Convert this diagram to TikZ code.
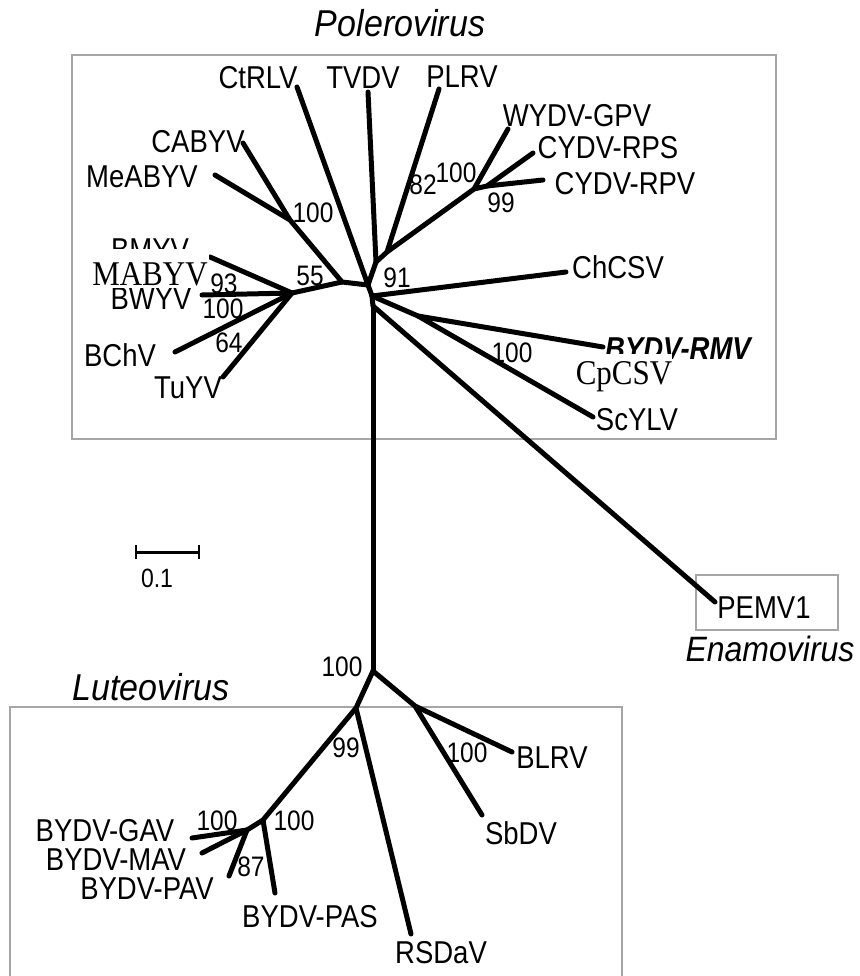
\documentclass[tikz,border=0pt]{standalone}
\usepackage{fontspec}
\setmainfont{Liberation Sans}
\newfontfamily\serifx{Liberation Serif}
\newcommand{\tl}[1]{\scalebox{1}[1.15]{#1}}
\newcommand{\tg}[1]{\scalebox{1}[1.1]{#1}}
\begin{document}
\begin{tikzpicture}[x=1pt,y=-1pt,
  br/.style={line width=5pt, line cap=round, line join=round},
  frame/.style={draw=black!35, line width=2.4pt},
  lab/.style={font=\fontsize{27.5}{30}\selectfont, inner sep=0pt, text height=22.6pt, text depth=0pt},
  bs/.style={font=\fontsize{24.5}{28}\selectfont, inner sep=0pt, text height=20.2pt, text depth=0pt},
  grp/.style={font=\fontsize{34}{38}\selectfont\itshape, inner sep=0pt, text height=26.8pt, text depth=0pt},
  ser/.style={font=\fontsize{31}{34}\selectfont\serifx, inner sep=0pt, text height=23pt, text depth=0pt},
  cover/.style={fill=white, draw=none}]
\useasboundingbox (0,0) rectangle (859,976);
% frames
\draw[frame] (72,55) rectangle (776,439);
\draw[frame] (696,575) rectangle (838,630);
\draw[frame] (10,1000) -- (10,707) -- (622,707) -- (622,1000);
% group labels
\node[grp] (gPol) at (400,23) {\tg{Polerovirus}};
\node[grp] (gLut) at (151,687) {\tg{Luteovirus}};
\node[grp, font=\fontsize{32}{36}\selectfont\itshape] (gEna) at (770,648) {\tg{Enamovirus}};
% internal nodes
\coordinate (N0) at (368,285);
\coordinate (T) at (376,262);
\coordinate (Q) at (387,252);
\coordinate (W) at (474,189);
\coordinate (W2) at (487,186);
\coordinate (F) at (342,282);
\coordinate (CA) at (290,220);
\coordinate (L) at (292,293);
\coordinate (N1) at (372,296);
\coordinate (N2) at (373,306);
\coordinate (RS) at (418,316);
\coordinate (B) at (373,671);
\coordinate (S) at (415,706);
\coordinate (P) at (356,708);
\coordinate (G) at (263,820);
\coordinate (GM) at (247,830);
% tips
\coordinate (tCtRLV) at (297,87);
\coordinate (tTVDV) at (368,92);
\coordinate (tPLRV) at (439,89);
\coordinate (tWYDV) at (508,129);
\coordinate (tRPS) at (533,153);
\coordinate (tRPV) at (543,180);
\coordinate (tCABYV) at (243,143);
\coordinate (tMeABYV) at (215,175);
\coordinate (tBMYV) at (210,257);
\coordinate (tBWYV) at (202,295);
\coordinate (tBChV) at (175,352);
\coordinate (tTuYV) at (223,377);
\coordinate (tChCSV) at (566,272);
\coordinate (tRMV) at (603,347);
\coordinate (tScYLV) at (593,417);
\coordinate (tPEMV) at (715,602);
\coordinate (tBLRV) at (512,752);
\coordinate (tSbDV) at (482,815);
\coordinate (tRSDaV) at (411,934);
\coordinate (tPAS) at (275,893);
\coordinate (tPAV) at (229,876);
\coordinate (tGAV) at (192,838);
\coordinate (tMAV) at (202,853);
% branches
\draw[br] (N0) -- (tCtRLV);
\draw[br] (N0) -- (T) -- (tTVDV);
\draw[br] (T) -- (Q) -- (tPLRV);
\draw[br] (Q) -- (W) -- (tWYDV);
\draw[br] (W) -- (W2) -- (tRPS);
\draw[br] (W2) -- (tRPV);
\draw[br] (N0) -- (F) -- (CA) -- (tCABYV);
\draw[br] (CA) -- (tMeABYV);
\draw[br] (F) -- (L) -- (tBMYV);
\draw[br] (L) -- (tBWYV);
\draw[br] (L) -- (tBChV);
\draw[br] (L) -- (tTuYV);
\draw[br] (N0) -- (N1) -- (tChCSV);
\draw[br] (N1) -- (RS) -- (tRMV);
\draw[br] (RS) -- (tScYLV);
\draw[br] (N1) -- (N2) -- (tPEMV);
\draw[br] (N2) -- (B);
\draw[br] (B) -- (S) -- (tBLRV);
\draw[br] (S) -- (tSbDV);
\draw[br] (B) -- (P) -- (tRSDaV);
\draw[br] (P) -- (G) -- (tPAS);
\draw[br] (G) -- (GM) -- (tGAV);
\draw[br] (GM) -- (tMAV);
\draw[br] (GM) -- (tPAV);
% taxon labels
\node[lab] (lCtRLV) at (258,77) {\tl{CtRLV}};
\node[lab] (lTVDV) at (363,77) {\tl{TVDV}};
\node[lab] (lPLRV) at (462,76) {\tl{PLRV}};
\node[lab] (lWYDV) at (577,115) {\tl{WYDV-GPV}};
\node[lab] (lRPS) at (608,147) {\tl{CYDV-RPS}};
\node[lab] (lRPV) at (625,183) {\tl{CYDV-RPV}};
\node[lab] (lCABYV) at (198,141) {\tl{CABYV}};
\node[lab] (lMeABYV) at (142,176) {\tl{MeABYV}};
\node[lab] (lBMYV) at (150,249) {\tl{BMYV}};
\node[lab] (lBWYV) at (151,298) {\tl{BWYV}};
\node[lab] (lBChV) at (120,355) {\tl{BChV}};
\node[lab] (lTuYV) at (188,387) {\tl{TuYV}};
\node[lab] (lChCSV) at (618,267) {\tl{ChCSV}};
\node[lab, font=\fontsize{27.5}{30}\selectfont\bfseries\itshape] (lRMV) at (678,348) {\tl{BYDV-RMV}};
\node[lab] (lScYLV) at (637,419) {\tl{ScYLV}};
\node[lab] (lPEMV) at (764,607) {\tl{PEMV1}};
\node[lab] (lBLRV) at (552,757) {\tl{BLRV}};
\node[lab] (lSbDV) at (521,833) {\tl{SbDV}};
\node[lab] (lRSDaV) at (441,952) {\tl{RSDaV}};
\node[lab] (lPAS) at (310,916) {\tl{BYDV-PAS}};
\node[lab] (lPAV) at (147,888) {\tl{BYDV-PAV}};
\node[lab] (lMAV) at (116,859) {\tl{BYDV-MAV}};
\node[lab] (lGAV) at (105,830) {\tl{BYDV-GAV}};
% overlaid serif labels
\fill[cover] (90,249) rectangle (209,288);
\node[ser] (lMABYV) at (150,274) {\scalebox{1}[1.12]{MABYV}};
\fill[cover] (574,354) rectangle (672,392);
\node[ser] (lCpCSV) at (624,373) {\scalebox{1}[1.12]{CpCSV}};
% bootstrap values
\node[bs] (b1) at (313,212) {\tl{100}};
\node[bs] (b2) at (423,184) {\tl{82}};
\node[bs] (b3) at (456,172) {\tl{100}};
\node[bs] (b4) at (501,202) {\tl{99}};
\node[bs] (b5) at (310,275) {\tl{55}};
\node[bs] (b6) at (397,277) {\tl{91}};
\node[bs] (b7) at (224,283) {\tl{93}};
\node[bs] (b8) at (223,308) {\tl{100}};
\node[bs] (b9) at (229,342) {\tl{64}};
\node[bs] (b10) at (512,352) {\tl{100}};
\node[bs] (b11) at (342,666) {\tl{100}};
\node[bs] (b12) at (346,747) {\tl{99}};
\node[bs] (b13) at (467,752) {\tl{100}};
\node[bs] (b14) at (217,820) {\tl{100}};
\node[bs] (b15) at (294,820) {\tl{100}};
\node[bs] (b16) at (251,866) {\tl{87}};
% scale bar
\coordinate (sA) at (136,552);
\coordinate (sB) at (199,552);
\draw[line width=3pt] (sA) -- (sB);
\draw[line width=2.5pt] ([yshift=-7pt]sA) -- ([yshift=7pt]sA);
\draw[line width=2.5pt] ([yshift=-7pt]sB) -- ([yshift=7pt]sB);
\node[bs, font=\fontsize{23}{26}\selectfont, text height=18.9pt] (lScale) at (157,578) {\tl{0.1}};
\end{tikzpicture}
\end{document}
